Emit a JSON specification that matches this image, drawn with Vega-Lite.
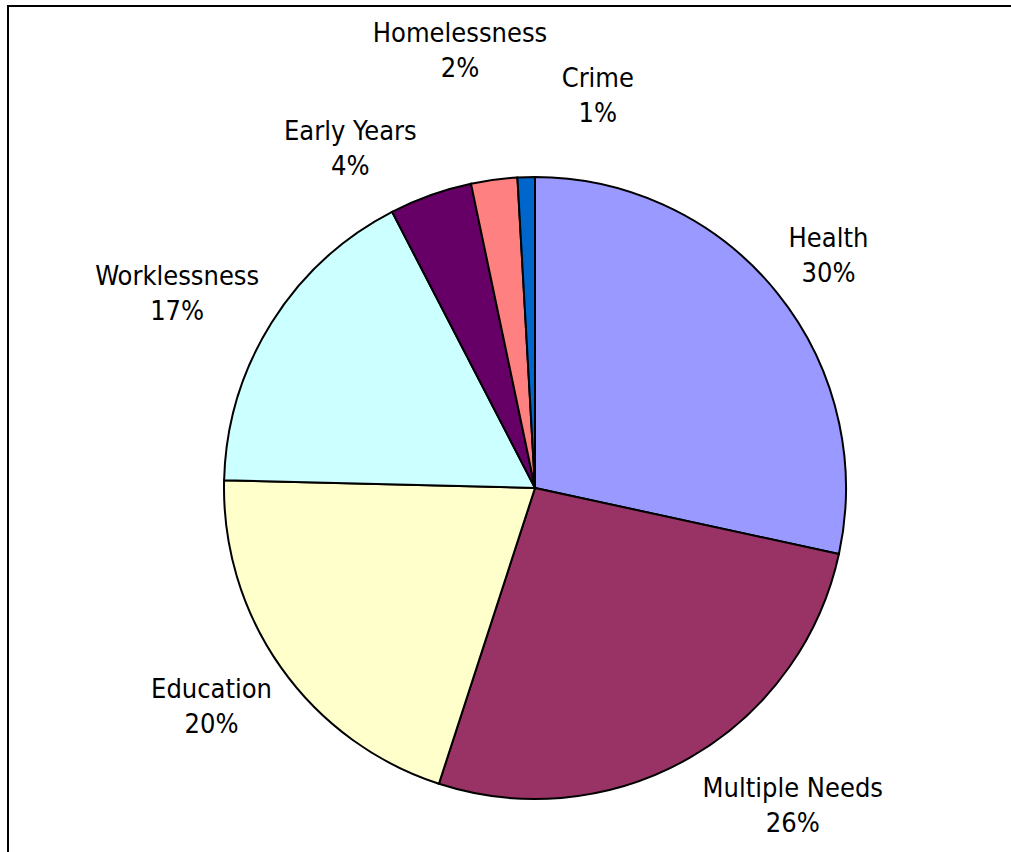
{
  "$schema": "https://vega.github.io/schema/vega-lite/v6.json",
  "width": 1054,
  "height": 964,
  "autosize": {"type": "none"},
  "padding": {"left": 8, "top": 6, "right": -51, "bottom": -118},
  "background": "white",
  "view": {"stroke": "#000000", "strokeWidth": 2, "fill": "white"},
  "config": {
    "view": {"stroke": "#000000", "strokeWidth": 2, "fill": "white"},
    "text": {"font": "Tahoma, 'DejaVu Sans Condensed', 'DejaVu Sans'", "fontSize": 27, "lineHeight": 35, "fill": "#000000"}
  },
  "data": {
    "values": [
      {"order": 1, "category": "Health", "value": 28.4, "pct": "30%"},
      {"order": 2, "category": "Multiple Needs", "value": 26.6, "pct": "26%"},
      {"order": 3, "category": "Education", "value": 20.4, "pct": "20%"},
      {"order": 4, "category": "Worklessness", "value": 17.0, "pct": "17%"},
      {"order": 5, "category": "Early Years", "value": 4.3, "pct": "4%"},
      {"order": 6, "category": "Homelessness", "value": 2.4, "pct": "2%"},
      {"order": 7, "category": "Crime", "value": 0.9, "pct": "1%"}
    ]
  },
  "transform": [
    {"stack": "value", "groupby": [], "sort": [{"field": "order", "order": "ascending"}], "as": ["v0", "v1"]},
    {"calculate": "(datum.v0 + datum.v1) / 2", "as": "mid"},
    {"calculate": "datum.category + '\\n' + datum.pct", "as": "label"}
  ],
  "layer": [
    {
      "mark": {"type": "arc", "outerRadius": 311, "stroke": "#000000", "strokeWidth": 2},
      "encoding": {
        "theta": {"field": "v0", "type": "quantitative", "stack": null, "scale": {"domain": [0, 100]}},
        "theta2": {"field": "v1"},
        "color": {
          "field": "category", "type": "nominal", "legend": null,
          "scale": {
            "domain": ["Health", "Multiple Needs", "Education", "Worklessness", "Early Years", "Homelessness", "Crime"],
            "range": ["#9999FF", "#993366", "#FFFFCC", "#CCFFFF", "#660066", "#FF8080", "#0066CC"]
          }
        }
      }
    },
    {
      "transform": [{"filter": "datum.category == 'Health'"}],
      "mark": {"type": "text", "radius": 395, "dx": -14, "dy": -1, "align": "center", "baseline": "middle", "lineBreak": "\n"},
      "encoding": {"theta": {"field": "mid", "type": "quantitative", "stack": null, "scale": {"domain": [0, 100]}}, "text": {"field": "label"}}
    },
    {
      "transform": [{"filter": "datum.category == 'Multiple Needs'"}],
      "mark": {"type": "text", "radius": 395, "dx": 61, "dy": -41, "align": "center", "baseline": "middle", "lineBreak": "\n"},
      "encoding": {"theta": {"field": "mid", "type": "quantitative", "stack": null, "scale": {"domain": [0, 100]}}, "text": {"field": "label"}}
    },
    {
      "transform": [{"filter": "datum.category == 'Education'"}],
      "mark": {"type": "text", "radius": 395, "dx": -1, "dy": -26, "align": "center", "baseline": "middle", "lineBreak": "\n"},
      "encoding": {"theta": {"field": "mid", "type": "quantitative", "stack": null, "scale": {"domain": [0, 100]}}, "text": {"field": "label"}}
    },
    {
      "transform": [{"filter": "datum.category == 'Worklessness'"}],
      "mark": {"type": "text", "radius": 395, "dx": -23, "dy": -1, "align": "center", "baseline": "middle", "lineBreak": "\n"},
      "encoding": {"theta": {"field": "mid", "type": "quantitative", "stack": null, "scale": {"domain": [0, 100]}}, "text": {"field": "label"}}
    },
    {
      "transform": [{"filter": "datum.category == 'Early Years'"}],
      "mark": {"type": "text", "radius": 395, "dx": -52, "dy": 16, "align": "center", "baseline": "middle", "lineBreak": "\n"},
      "encoding": {"theta": {"field": "mid", "type": "quantitative", "stack": null, "scale": {"domain": [0, 100]}}, "text": {"field": "label"}}
    },
    {
      "transform": [{"filter": "datum.category == 'Homelessness'"}],
      "mark": {"type": "text", "radius": 395, "dx": -23, "dy": -62, "align": "center", "baseline": "middle", "lineBreak": "\n"},
      "encoding": {"theta": {"field": "mid", "type": "quantitative", "stack": null, "scale": {"domain": [0, 100]}}, "text": {"field": "label"}}
    },
    {
      "transform": [{"filter": "datum.category == 'Crime'"}],
      "mark": {"type": "text", "radius": 395, "dx": 74, "dy": -14, "align": "center", "baseline": "middle", "lineBreak": "\n"},
      "encoding": {"theta": {"field": "mid", "type": "quantitative", "stack": null, "scale": {"domain": [0, 100]}}, "text": {"field": "label"}}
    }
  ]
}
